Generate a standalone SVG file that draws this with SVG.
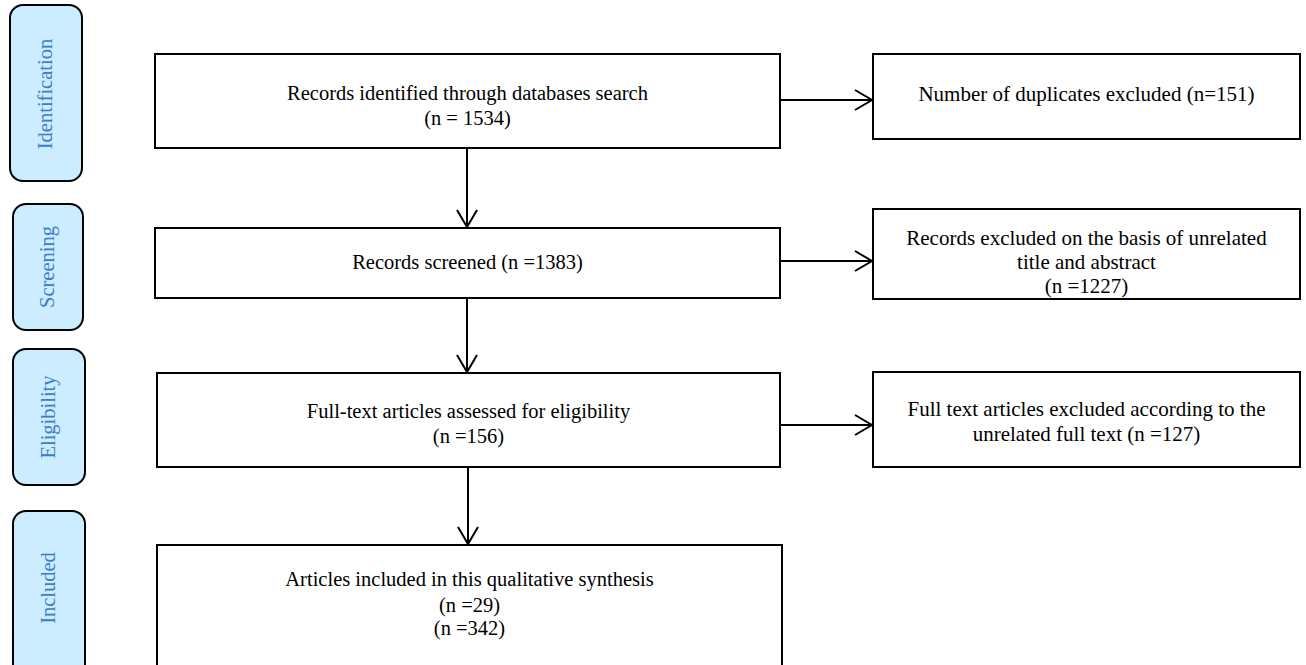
<svg xmlns="http://www.w3.org/2000/svg" width="1306" height="665" viewBox="0 0 1306 665">
<defs>
<style>
.stage rect{fill:#CCECFF;stroke:#000;stroke-width:2}
.stage text{font-family:"Liberation Serif","Times New Roman",serif;font-size:20.5px;fill:#3C7DC4;text-anchor:middle}
.box rect{fill:#fff;stroke:#000;stroke-width:2}
.box text{font-family:"Liberation Serif","Times New Roman",serif;font-size:20.5px;fill:#000;text-anchor:middle}
.box.right text{font-size:21px}
.conn line{stroke:#000;stroke-width:2;fill:none}
</style>
<marker id="arr" markerUnits="userSpaceOnUse" markerWidth="22" markerHeight="24" viewBox="0 0 22 24" refX="19" refY="12" orient="auto">
<path d="M2,2 L19,12 L2,22" fill="none" stroke="#000" stroke-width="2"/>
</marker>
</defs>
<rect width="1306" height="665" fill="#fff"/>

<g id="stage-identification" class="stage">
<rect x="10" y="5" width="72" height="176" rx="13"/>
<text transform="translate(52,94) rotate(-90)">Identification</text>
</g>
<g id="stage-screening" class="stage">
<rect x="13" y="204" width="70" height="126" rx="13"/>
<text transform="translate(54,267) rotate(-90)">Screening</text>
</g>
<g id="stage-eligibility" class="stage">
<rect x="13" y="349" width="72" height="136" rx="13"/>
<text transform="translate(55,417) rotate(-90)">Eligibility</text>
</g>
<g id="stage-included" class="stage">
<rect x="13" y="511" width="72" height="170" rx="13"/>
<text transform="translate(55,588) rotate(-90)">Included</text>
</g>

<g id="identified" class="box">
<rect x="155" y="54" width="625" height="94"/>
<text x="467.5" y="100">Records identified through databases search</text>
<text x="467.5" y="125">(n = 1534)</text>
</g>
<g id="duplicates" class="box right">
<rect x="873" y="54" width="427" height="85"/>
<text x="1086.5" y="101">Number of duplicates excluded (n=151)</text>
</g>
<g id="screened" class="box">
<rect x="155" y="228" width="625" height="70"/>
<text x="467.5" y="269">Records screened (n =1383)</text>
</g>
<g id="excluded-title" class="box right">
<rect x="873" y="209" width="427" height="90"/>
<text x="1086.5" y="245">Records excluded on the basis of unrelated</text>
<text x="1086.5" y="269">title and abstract</text>
<text x="1086.5" y="293">(n =1227)</text>
</g>
<g id="fulltext" class="box">
<rect x="157" y="373" width="623" height="94"/>
<text x="468.5" y="418">Full-text articles assessed for eligibility</text>
<text x="468.5" y="443">(n =156)</text>
</g>
<g id="excluded-fulltext" class="box right">
<rect x="873" y="372" width="427" height="95"/>
<text x="1086.5" y="416">Full text articles excluded according to the</text>
<text x="1086.5" y="441">unrelated full text (n =127)</text>
</g>
<g id="included" class="box">
<rect x="157" y="545" width="625" height="130"/>
<text x="469.5" y="586">Articles included in this qualitative synthesis</text>
<text x="469.5" y="612">(n =29)</text>
<text x="469.5" y="635">(n =342)</text>
</g>

<g id="connectors" class="conn">
<line x1="780" y1="100" x2="872" y2="100" marker-end="url(#arr)"/>
<line x1="467" y1="148" x2="467" y2="227" marker-end="url(#arr)"/>
<line x1="780" y1="261" x2="872" y2="261" marker-end="url(#arr)"/>
<line x1="467" y1="298" x2="467" y2="372" marker-end="url(#arr)"/>
<line x1="780" y1="425" x2="872" y2="425" marker-end="url(#arr)"/>
<line x1="468" y1="467" x2="468" y2="544" marker-end="url(#arr)"/>
</g>
</svg>
